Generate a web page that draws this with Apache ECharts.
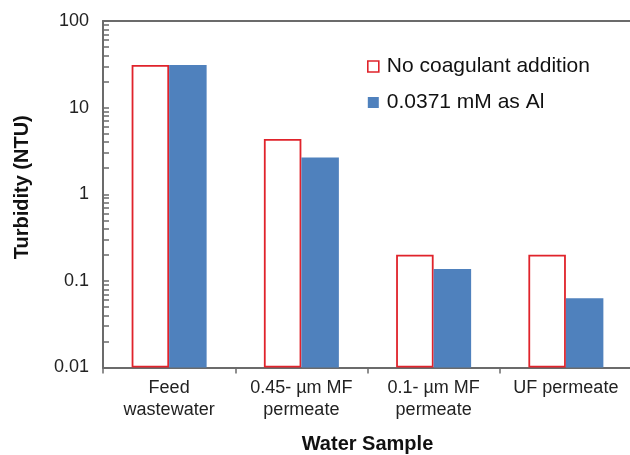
<!DOCTYPE html>
<html>
<head>
<meta charset="utf-8">
<script src="https://cdn.jsdelivr.net/npm/echarts@6/dist/echarts.min.js"></script>
<style>html,body{margin:0;padding:0;background:#fff}#c{width:630px;height:455px}</style>
</head>
<body>
<div id="c"></div>
<script>
const categories = ['Feed\nwastewater', '0.45- \u00b5m MF\npermeate', '0.1- \u00b5m MF\npermeate', 'UF permeate'];
const noCoagulant = [31, 4.35, 0.2, 0.2];
const alDose = [31, 2.65, 0.137, 0.063];
const seriesNames = ['No coagulant addition', '0.0371 mM as Al'];
const majorTicks = [0.01, 0.1, 1, 10, 100];
const minorTicks = [];
[0.01, 0.1, 1, 10].forEach(d => { for (let k = 2; k <= 9; k++) minorTicks.push(+(d * k).toPrecision(3)); });

const FONT = 'Liberation Sans, Arial, sans-serif';
const AXIS = '#6b6b6b';
const RED = '#e0232b';
const BLUE = '#4f81bd';

const chart = echarts.init(document.getElementById('c'), null, {renderer: 'canvas'});
chart.setOption({
  animation: false,
  backgroundColor: '#fff',
  grid: {left: 103, right: -2, top: 21, bottom: 87.5, containLabel: false, outerBoundsMode: 'none'},
  legend: {
    orient: 'vertical', left: 362, top: 51,
    itemWidth: 11, itemHeight: 11, itemGap: 15,
    textStyle: {fontFamily: FONT, fontSize: 21, color: '#111', lineHeight: 21, padding: [0, 0, 0, 3]},
    data: [
      {name: seriesNames[0], icon: 'rect', itemStyle: {color: '#fff', borderColor: RED, borderWidth: 1.6}},
      {name: seriesNames[1], icon: 'rect', itemStyle: {color: BLUE, borderWidth: 0}}
    ]
  },
  xAxis: [{
    type: 'category', data: categories, boundaryGap: true,
    name: 'Water Sample', nameLocation: 'middle', nameGap: 77,
    nameTextStyle: {fontFamily: FONT, fontSize: 20, fontWeight: 'bold', color: '#111', verticalAlign: 'middle'},
    axisLine: {lineStyle: {color: AXIS, width: 2}},
    axisTick: {show: true, length: 6, inside: false, lineStyle: {color: AXIS, width: 1.5}},
    axisLabel: {fontFamily: FONT, fontSize: 18, color: '#222', margin: 10, lineHeight: 22, interval: 0}
  }, {
    type: 'category', data: categories, position: 'top',
    axisLine: {show: true, lineStyle: {color: AXIS, width: 2}},
    axisTick: {show: false}, axisLabel: {show: false}
  }],
  yAxis: [{
    type: 'log', logBase: 10, min: 0.01, max: 100, startValue: 0.01,
    name: 'Turbidity (NTU)', nameLocation: 'middle', nameGap: 81,
    nameTextStyle: {fontFamily: FONT, fontSize: 20, fontWeight: 'bold', color: '#111', verticalAlign: 'middle', padding: [0, 0, 0, 14]},
    axisLine: {show: true, lineStyle: {color: AXIS, width: 2}},
    axisTick: {show: true, inside: true, length: 6, lineStyle: {color: AXIS, width: 1.5}},
    axisLabel: {fontFamily: FONT, fontSize: 18, color: '#222', margin: 14,
      customValues: majorTicks, formatter: v => String(v)},
    splitLine: {show: false}
  }, {
    type: 'log', logBase: 10, min: 0.01, max: 100, position: 'left',
    axisLine: {show: false},
    axisTick: {show: true, inside: true, length: 6, customValues: minorTicks, lineStyle: {color: AXIS, width: 1.5}},
    axisLabel: {show: false}, splitLine: {show: false}
  }],
  series: [{
    name: seriesNames[0], type: 'bar', data: noCoagulant, barWidth: 37.5, barGap: '0%',
    itemStyle: {color: '#fff', borderColor: RED, borderWidth: 1.8}
  }, {
    name: seriesNames[1], type: 'bar', data: alDose, barWidth: 37.5, barGap: '0%',
    itemStyle: {color: BLUE}
  }]
});
</script>
</body>
</html>
